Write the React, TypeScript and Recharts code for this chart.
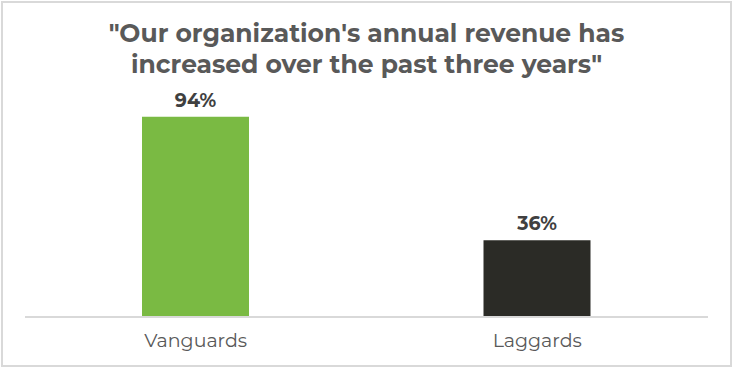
import { BarChart, Bar, XAxis, YAxis, Cell, LabelList } from 'recharts';

const categories = ['Vanguards', 'Laggards'];
const values = [94, 36];
const barColors = ['#7aba43', '#2b2b26'];
const titleLines = ['"Our organization\'s annual revenue has', 'increased over the past three years"'];

const data = categories.map((name, i) => ({ name, value: values[i] }));

const FONT = 'Montserrat, "Open Sans", Lato, sans-serif';

export default function App() {
  return (
    <div style={{ position: 'absolute', left: 0, top: 0, width: 733, height: 368, background: '#fff', fontFamily: FONT }}>
      {/* rahmen */}
      <div
        style={{
          position: 'absolute',
          left: 1,
          top: 1,
          width: 731,
          height: 366,
          boxSizing: 'border-box',
          border: '2px solid #d9d9d9',
        }}
      />
      <div
        style={{
          position: 'absolute',
          left: 0,
          top: 18,
          width: 733,
          textAlign: 'center',
          fontSize: 25,
          fontWeight: 700,
          lineHeight: '31px',
          color: '#595959',
          whiteSpace: 'nowrap',
        }}
      >
        {titleLines.map((l) => (
          <div key={l}>{l}</div>
        ))}
      </div>
      <BarChart
        width={733}
        height={368}
        data={data}
        margin={{ top: 104, right: 25, bottom: 11, left: 25 }}
        style={{ position: 'absolute', left: 0, top: 0 }}
      >
        <XAxis
          dataKey="name"
          height={40}
          axisLine={{ stroke: '#d9d9d9', strokeWidth: 2 }}
          tickLine={false}
          tick={{ fill: '#595959', fontSize: 19, fontFamily: FONT }}
          tickMargin={11}
        />
        <YAxis hide domain={[0, 100]} />
        <Bar dataKey="value" barSize={107} isAnimationActive={false}>
          {data.map((d, i) => (
            <Cell key={d.name} fill={barColors[i]} />
          ))}
          <LabelList
            dataKey="value"
            position="top"
            offset={10}
            formatter={(v: any) => `${v}%`}
            style={{ fill: '#404040', fontSize: 19, fontWeight: 700, fontFamily: FONT }}
          />
        </Bar>
      </BarChart>
    </div>
  );
}
